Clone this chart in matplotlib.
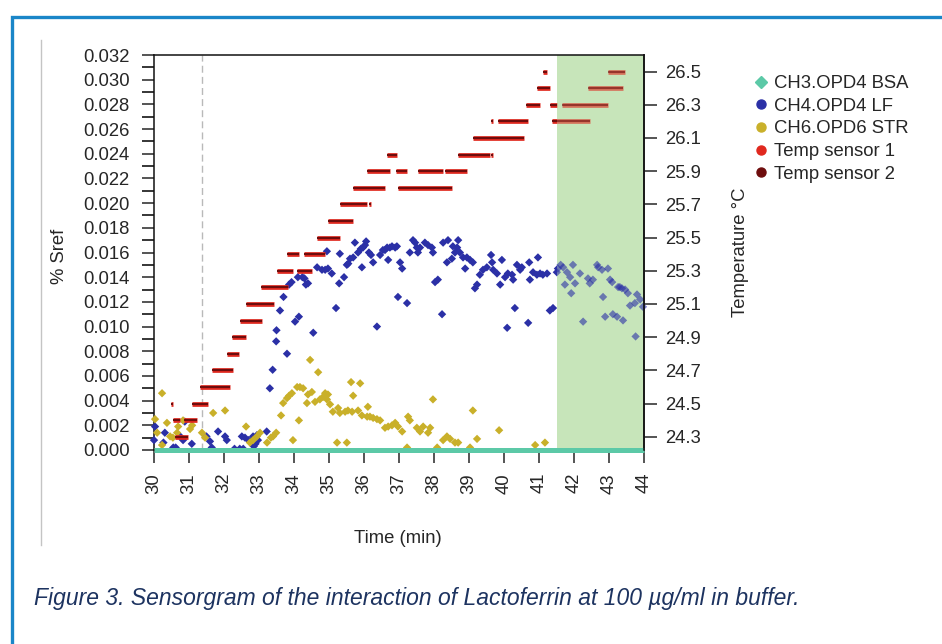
import matplotlib
matplotlib.use('Agg')
import matplotlib.pyplot as plt
from matplotlib.lines import Line2D
from matplotlib.patches import Rectangle
from matplotlib.transforms import blended_transform_factory
from matplotlib.ticker import MultipleLocator, FormatStrFormatter
import numpy as np

# ---------------- data ----------------
x_ticks = list(range(30, 45))
y_ticks = [0.000, 0.002, 0.004, 0.006, 0.008, 0.010, 0.012, 0.014, 0.016,
           0.018, 0.020, 0.022, 0.024, 0.026, 0.028, 0.030, 0.032]
temp_ticks = [24.3, 24.5, 24.7, 24.9, 25.1, 25.3, 25.5, 25.7, 25.9, 26.1, 26.3, 26.5]

legend_labels = ["CH3.OPD4 BSA", "CH4.OPD4 LF", "CH6.OPD6 STR", "Temp sensor 1", "Temp sensor 2"]

# CH3.OPD4 BSA (flat at zero)
bsa_time = [30.0, 44.0]
bsa_value = [0.0, 0.0]

# CH4.OPD4 LF
lf_time = [30.0, 30.03, 30.27, 30.31, 30.55, 30.62, 30.75, 30.83, 30.88, 31.08,
           31.5, 31.6, 31.65, 31.83, 32.03, 32.08, 32.3, 32.45, 32.51, 32.55,
           32.6, 32.7, 32.83, 32.85, 32.9, 32.94, 32.97, 33.22, 33.31, 33.39,
           33.49, 33.5, 33.6, 33.7, 33.8, 33.86, 33.93, 34.03, 34.11, 34.14,
           34.24, 34.3, 34.34, 34.4, 34.55, 34.66, 34.8, 34.89, 34.94, 34.97,
           35.08, 35.2, 35.29, 35.31, 35.43, 35.51, 35.55, 35.6, 35.69, 35.74,
           35.83, 35.91, 35.94, 35.97, 36.03, 36.06, 36.14, 36.2, 36.26, 36.37,
           36.46, 36.54, 36.6, 36.66, 36.69, 36.74, 36.8, 36.89, 36.94, 36.97,
           37.03, 37.09, 37.23, 37.31, 37.4, 37.46, 37.51, 37.54, 37.6, 37.74,
           37.83, 37.94, 37.97, 38.03, 38.11, 38.23, 38.26, 38.37, 38.4, 38.51,
           38.54, 38.6, 38.66, 38.69, 38.74, 38.83, 38.89, 38.94, 39.03, 39.11,
           39.17, 39.23, 39.31, 39.4, 39.51, 39.63, 39.66, 39.69, 39.8, 39.89,
           39.94, 40.03, 40.09, 40.11, 40.23, 40.26, 40.31, 40.37, 40.46, 40.51,
           40.69, 40.72, 40.74, 40.83, 40.94, 40.97, 41.03, 41.11, 41.23, 41.31,
           41.4, 41.51, 41.54, 41.62, 41.69, 41.74, 41.8, 41.89, 41.92, 41.97,
           42.03, 42.17, 42.26, 42.4, 42.45, 42.54, 42.66, 42.69, 42.8, 42.83,
           42.89, 42.97, 43.03, 43.09, 43.11, 43.23, 43.26, 43.31, 43.37, 43.4,
           43.46, 43.54, 43.6, 43.74, 43.76, 43.8, 43.89, 43.97]
lf_value = [0.0008, 0.0019, 0.0006, 0.0014, 0.0002, 0.0002, 0.0011, 0.0008, 0.0023, 0.0005,
            0.0011, 0.0007, 0.0002, 0.0015, 0.0011, 0.0008, 0.0001, 0.0001, 0.0011, 0.0001,
            0.0010, 0.0008, 0.0011, 0.0003, 0.0005, 0.0012, 0.0008, 0.0015, 0.0050, 0.0065,
            0.0088, 0.0097, 0.0113, 0.0124, 0.0078, 0.0134, 0.0136, 0.0104, 0.0140, 0.0108,
            0.0140, 0.0139, 0.0134, 0.0135, 0.0095, 0.0148, 0.0146, 0.0146, 0.0161, 0.0147,
            0.0143, 0.0115, 0.0135, 0.0159, 0.0140, 0.0150, 0.0151, 0.0155, 0.0156, 0.0168,
            0.0160, 0.0163, 0.0148, 0.0164, 0.0166, 0.0169, 0.0160, 0.0158, 0.0152, 0.0100,
            0.0158, 0.0162, 0.0162, 0.0164, 0.0154, 0.0164, 0.0165, 0.0164, 0.0165, 0.0124,
            0.0152, 0.0147, 0.0119, 0.0160, 0.0170, 0.0168, 0.0164, 0.0160, 0.0164, 0.0168,
            0.0166, 0.0164, 0.0160, 0.0136, 0.0138, 0.0110, 0.0168, 0.0152, 0.0170, 0.0155,
            0.0165, 0.0160, 0.0164, 0.0170, 0.0160, 0.0156, 0.0147, 0.0156, 0.0154, 0.0152,
            0.0131, 0.0134, 0.0142, 0.0146, 0.0148, 0.0158, 0.0152, 0.0146, 0.0143, 0.0134,
            0.0154, 0.0140, 0.0099, 0.0143, 0.0142, 0.0138, 0.0115, 0.0150, 0.0146, 0.0148,
            0.0103, 0.0152, 0.0138, 0.0144, 0.0142, 0.0156, 0.0143, 0.0142, 0.0143, 0.0113,
            0.0115, 0.0144, 0.0147, 0.0150, 0.0148, 0.0134, 0.0144, 0.0140, 0.0127, 0.0150,
            0.0135, 0.0143, 0.0104, 0.0139, 0.0135, 0.0138, 0.0150, 0.0148, 0.0146, 0.0124,
            0.0108, 0.0147, 0.0138, 0.0136, 0.0110, 0.0108, 0.0132, 0.0132, 0.0131, 0.0105,
            0.0130, 0.0127, 0.0117, 0.0119, 0.0092, 0.0126, 0.0122, 0.0116]

# CH6.OPD6 STR
str_time = [30.03, 30.09, 30.23, 30.23, 30.37, 30.46, 30.54, 30.66, 30.69, 30.83,
            31.03, 31.09, 31.37, 31.46, 31.69, 32.03, 32.63, 32.74, 32.83, 32.94,
            33.03, 33.23, 33.34, 33.4, 33.49, 33.63, 33.69, 33.8, 33.86, 33.94,
            33.97, 34.09, 34.14, 34.17, 34.26, 34.37, 34.4, 34.46, 34.51, 34.6,
            34.69, 34.74, 34.83, 34.89, 34.94, 34.97, 35.03, 35.11, 35.23, 35.26,
            35.31, 35.46, 35.51, 35.54, 35.63, 35.66, 35.69, 35.83, 35.89, 35.94,
            36.09, 36.11, 36.17, 36.26, 36.37, 36.46, 36.6, 36.69, 36.8, 36.89,
            36.97, 37.09, 37.23, 37.26, 37.31, 37.51, 37.6, 37.69, 37.83, 37.89,
            37.97, 38.09, 38.26, 38.37, 38.46, 38.6, 38.69, 39.03, 39.11, 39.23,
            39.86, 40.89, 41.17]
str_value = [0.0025, 0.0014, 0.0046, 0.0004, 0.0022, 0.0011, 0.0010, 0.0014, 0.0019, 0.0024,
             0.0017, 0.0020, 0.0014, 0.0010, 0.0030, 0.0032, 0.0019, 0.0006, 0.0008, 0.0011,
             0.0014, 0.0006, 0.0010, 0.0011, 0.0014, 0.0028, 0.0038, 0.0042, 0.0044, 0.0046,
             0.0008, 0.0051, 0.0024, 0.0051, 0.0050, 0.0038, 0.0045, 0.0073, 0.0047, 0.0039,
             0.0063, 0.0041, 0.0043, 0.0046, 0.0041, 0.0045, 0.0037, 0.0031, 0.0006, 0.0034,
             0.0030, 0.0031, 0.0006, 0.0032, 0.0055, 0.0031, 0.0044, 0.0032, 0.0054, 0.0028,
             0.0027, 0.0035, 0.0027, 0.0026, 0.0025, 0.0024, 0.0018, 0.0019, 0.0020, 0.0022,
             0.0019, 0.0015, 0.0002, 0.0027, 0.0024, 0.0018, 0.0015, 0.0019, 0.0014, 0.0018,
             0.0041, 0.0002, 0.0008, 0.0011, 0.0009, 0.0006, 0.0006, 0.0002, 0.0032, 0.0009,
             0.0016, 0.0004, 0.0006]

# Temperature readings: runs of constant temperature (start min, end min, deg C)
temp_start = [30.60, 30.54, 30.86, 30.49, 31.09, 31.31, 31.66, 32.09, 32.23, 32.46,
              32.63, 33.06, 33.51, 34.09, 33.80, 34.29, 34.66, 34.97, 35.31, 36.15,
              35.69, 36.97, 36.09, 36.91, 37.54, 38.31, 36.66, 38.69, 39.64, 39.11,
              39.64, 39.83, 41.37, 40.63, 41.31, 41.66, 40.94, 42.40, 41.11, 42.97]
temp_end = [30.97, 30.74, 31.23, 30.53, 31.54, 32.17, 32.26, 32.43, 32.63, 33.09,
            33.43, 33.83, 33.97, 34.51, 34.14, 34.89, 35.31, 35.69, 36.09, 36.19,
            36.60, 38.51, 36.74, 37.23, 38.26, 38.94, 36.94, 39.60, 39.68, 40.57,
            39.68, 40.69, 42.46, 41.03, 41.51, 42.97, 41.31, 43.40, 41.23, 43.46]
temp_level = [24.3, 24.4, 24.4, 24.5, 24.5, 24.6, 24.7, 24.8, 24.9, 25.0,
              25.1, 25.2, 25.3, 25.3, 25.4, 25.4, 25.5, 25.6, 25.7, 25.7,
              25.8, 25.8, 25.9, 25.9, 25.9, 25.9, 26.0, 26.0, 26.0, 26.1,
              26.2, 26.2, 26.2, 26.3, 26.3, 26.3, 26.4, 26.4, 26.5, 26.5]

injection_time = 31.37
highlight_start, highlight_end = 41.5, 44.0

# ---------------- styling ----------------
C_BSA = '#5cc9a7'
C_LF = '#2b30a6'
C_STR = '#c9b02a'
C_T1 = '#e0281e'
C_T2 = '#6e0d0d'
C_GREEN = '#c7e5ba'
TXT = '#262626'
FS = 13.3
FADE = 0.6   # data inside the highlighted window look faded

plt.rcParams['font.family'] = ['Liberation Sans', 'DejaVu Sans']

W, H = 942, 644
fig = plt.figure(figsize=(W / 100, H / 100), dpi=100)
fig.patch.set_facecolor('white')

ax = fig.add_axes([154 / W, 1 - 450 / H, 490 / W, 395 / H])
ax2 = ax.twinx()
ax.set_zorder(1)
ax2.set_zorder(2)
ax2.patch.set_visible(False)


def window_clip(axis, inside):
    """Rectangle (x in data, y in axes coords) used as a clip path."""
    tr = blended_transform_factory(axis.transData, axis.transAxes)
    if inside:
        return Rectangle((highlight_start, -0.1), highlight_end - highlight_start + 1, 1.2, transform=tr)
    return Rectangle((29.0, -0.1), highlight_start - 29.0, 1.2, transform=tr)


# highlighted window (beneath the data)
ax.axvspan(highlight_start, highlight_end, color=C_GREEN, lw=0, zorder=0.5)
ax.axvline(injection_time, color='#b9b9b9', lw=1.0, ls=(0, (5, 3)), zorder=1)

for inside in (False, True):
    a = FADE if inside else 1.0
    s1 = ax.scatter(lf_time, lf_value, marker='D', s=18, color=C_LF, alpha=a,
                    edgecolors='none', zorder=3)
    s2 = ax.scatter(str_time, str_value, marker='D', s=18, color=C_STR, alpha=a,
                    edgecolors='none', zorder=3)
    h1 = ax2.hlines(temp_level, temp_start, temp_end, color=C_T1, lw=3.4, alpha=a, zorder=2)
    h2 = ax2.hlines(temp_level, temp_start, temp_end, color=C_T2, lw=1.5, alpha=a, zorder=3)
    for art, axis in ((s1, ax), (s2, ax), (h1, ax2), (h2, ax2)):
        art.set_clip_path(window_clip(axis, inside))

ax.plot(bsa_time, bsa_value, color=C_BSA, lw=3.6, solid_capstyle='butt', zorder=3.5, clip_on=False)

ax.set_xlim(30, 44)
ax.set_ylim(0, 0.032)
ax.set_xticks(x_ticks)
ax.set_xticklabels([str(t) for t in x_ticks], rotation=90)
ax.set_yticks(y_ticks)
ax.yaxis.set_major_formatter(FormatStrFormatter('%.3f'))
ax.yaxis.set_minor_locator(MultipleLocator(0.001))

ax2.set_ylim(24.22, 26.60)
ax2.set_yticks(temp_ticks)
ax2.yaxis.set_major_formatter(FormatStrFormatter('%.1f'))

for s in ax.spines.values():
    s.set_linewidth(1.1)
    s.set_color('#111111')
for name, s in ax2.spines.items():
    s.set_linewidth(1.1)
    s.set_color('#111111')
    if name != 'right':
        s.set_visible(False)

ax.tick_params(axis='x', direction='out', length=9, width=1.1, pad=7.5,
               labelsize=FS, colors=TXT)
ax.tick_params(axis='y', which='major', direction='out', length=9, width=1.1, pad=8.5,
               labelsize=FS, colors=TXT)
ax.tick_params(axis='y', which='minor', direction='out', length=9, width=1.1)
ax2.tick_params(axis='y', direction='out', length=9, width=1.1, pad=6.5,
                labelsize=FS, colors=TXT)

ax.set_ylabel('% Sref', fontsize=FS, color=TXT)
ax.yaxis.set_label_coords(-0.176, 0.49)
ax2.set_ylabel('Temperature °C', fontsize=FS, color=TXT)
ax2.yaxis.set_label_coords(1.18, 0.50)
ax.set_xlabel('Time (min)', fontsize=FS, color=TXT)
ax.xaxis.set_label_coords(0.498, -0.2025)

# legend
handles = [
    Line2D([], [], ls='none', marker='D', ms=6, color=C_BSA),
    Line2D([], [], ls='none', marker='o', ms=6.5, color=C_LF),
    Line2D([], [], ls='none', marker='o', ms=6.5, color=C_STR),
    Line2D([], [], ls='none', marker='o', ms=6.5, color=C_T1),
    Line2D([], [], ls='none', marker='o', ms=6.5, color=C_T2),
]
leg = fig.legend(handles, legend_labels, loc='upper left',
                 bbox_to_anchor=(754 / W, 1 - 75 / H), bbox_transform=fig.transFigure,
                 frameon=False, fontsize=FS, handlelength=0.8, handletextpad=0.3,
                 labelspacing=0.31, borderpad=0, borderaxespad=0)
for t in leg.get_texts():
    t.set_color(TXT)

# page decoration: thin grey frame line and blue border
fig.add_artist(Line2D([41 / W, 41 / W], [1 - 40 / H, 1 - 545 / H],
                      color='#c4c4c4', lw=1.0, transform=fig.transFigure))
fig.add_artist(Line2D([12 / W, 12 / W, 1.0], [0.0, 1 - 17 / H, 1 - 17 / H],
                      color='#1a86c8', lw=2.4, transform=fig.transFigure,
                      solid_joinstyle='miter'))

fig.text(34 / W, 1 - 599 / H,
         'Figure 3. Sensorgram of the interaction of Lactoferrin at 100 µg/ml in buffer.',
         fontsize=16.5, style='italic', color='#1d3360', va='center', ha='left',
         family=['Liberation Sans Narrow', 'Liberation Sans', 'DejaVu Sans'])

fig.savefig('out.png', dpi=100, facecolor='white')
